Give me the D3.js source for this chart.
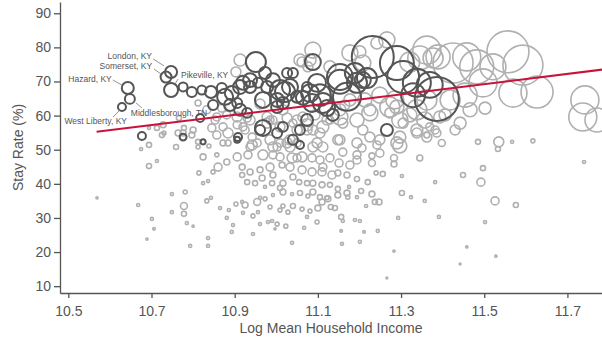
<!DOCTYPE html>
<html>
<head>
<meta charset="utf-8">
<script src="https://cdn.jsdelivr.net/npm/d3@7"></script>
<style>
  body { margin: 0; background: #fff; }
  svg { display: block; font-family: "Liberation Sans", Arial, sans-serif; }
</style>
</head>
<body>
<div id="chart"></div>
<script>
// axis ticks
const xTicks = [10.5, 10.7, 10.9, 11.1, 11.3, 11.5, 11.7];
const yTicks = [10, 20, 30, 40, 50, 60, 70, 80, 90];

// named commuting zones: [log income, stay rate %, population (k)]
const labelNames = ["Hazard, KY", "Middlesborough, TN", "West Liberty, KY", "London, KY", "Somerset, KY", "Pikeville, KY"];
const labeledCZ = [
  [10.643, 68.1, 90], [10.648, 64.9, 62], [10.629, 62.5, 40],
  [10.747, 72.8, 90], [10.735, 71.3, 75], [10.747, 67.5, 122]
];

// highlighted (dark) commuting zones
const highlightCZ = [
  [10.776, 68.4, 50], [10.797, 66.9, 62], [10.821, 67.5, 50], [10.843, 66.9, 90],
  [10.817, 59.3, 40], [10.677, 54.0, 40], [10.776, 53.7, 30], [10.824, 52.3, 16],
  [10.848, 63.1, 62], [10.877, 65.5, 160], [10.893, 66.6, 122], [10.889, 63.1, 90],
  [10.906, 63.7, 62], [10.920, 69.6, 122], [10.951, 75.7, 250], [10.937, 68.4, 90],
  [10.913, 61.7, 90], [10.930, 60.8, 62], [10.956, 69.6, 62], [10.978, 68.4, 90],
  [10.968, 64.6, 160], [10.992, 70.4, 122], [11.009, 67.5, 250], [11.002, 64.6, 122],
  [11.016, 63.7, 90], [11.033, 68.4, 160], [11.050, 65.5, 90], [11.026, 72.5, 62],
  [10.968, 56.4, 160], [10.961, 55.8, 62], [11.016, 56.7, 62], [11.002, 54.9, 62],
  [11.040, 52.9, 62], [11.057, 55.8, 62], [10.908, 53.7, 40], [11.074, 68.4, 62],
  [10.937, 70.4, 122], [10.913, 68.4, 122], [10.869, 68.1, 62], [10.973, 72.5, 90],
  [11.021, 66.9, 250], [11.040, 72.5, 62], [11.002, 62.5, 90], [11.081, 66.6, 200],
  [11.098, 69.6, 200], [11.074, 58.7, 90], [11.112, 63.7, 250], [11.153, 71.3, 420],
  [11.170, 65.5, 490], [11.189, 72.5, 250], [11.194, 69.6, 250], [11.208, 70.4, 160],
  [11.232, 77.2, 1100], [11.290, 75.4, 720], [11.305, 71.3, 640], [11.338, 69.6, 490],
  [11.266, 55.8, 90], [11.057, 51.4, 40], [10.906, 52.9, 22], [11.369, 69.0, 420],
  [11.329, 66.0, 360], [11.218, 71.0, 250], [11.153, 69.9, 360], [11.105, 66.0, 300],
  [11.086, 63.7, 200], [11.122, 62.2, 160], [11.136, 60.2, 90], [11.088, 75.7, 160],
  [11.064, 65.2, 122], [11.386, 64.9, 1210]
];

// all other commuting zones (light)
const otherCZ = [
  [10.569, 35.9, 3], [10.668, 33.8, 6], [10.675, 50.2, 6], [10.694, 51.4, 16], [10.694, 45.2, 16],
  [10.713, 46.7, 6], [10.701, 29.7, 6], [10.706, 26.8, 4], [10.689, 23.8, 3], [10.749, 37.0, 6],
  [10.781, 37.6, 10], [10.778, 33.5, 30], [10.778, 31.2, 16], [10.749, 31.7, 6], [10.785, 28.5, 6],
  [10.800, 27.6, 3], [10.793, 21.8, 6], [10.836, 24.1, 6], [10.836, 21.8, 6], [10.759, 50.8, 16],
  [10.814, 43.2, 10], [10.824, 40.2, 6], [10.836, 40.8, 6], [10.824, 47.9, 22], [10.848, 43.5, 10],
  [10.860, 44.9, 40], [10.857, 48.5, 10], [10.833, 35.0, 10], [10.843, 35.9, 6], [10.865, 32.9, 6],
  [10.886, 32.3, 6], [10.881, 30.0, 6], [10.896, 27.9, 6], [10.893, 25.9, 6], [10.903, 34.1, 10],
  [10.918, 34.7, 6], [10.920, 31.5, 6], [10.872, 52.0, 22], [10.884, 52.0, 22], [10.906, 47.9, 40],
  [10.881, 46.4, 22], [10.918, 42.6, 16], [10.838, 51.1, 10], [10.812, 50.8, 10], [10.694, 56.4, 6],
  [10.713, 56.4, 16], [10.728, 57.3, 22], [10.725, 54.3, 16], [10.730, 54.9, 10], [10.764, 54.9, 22],
  [10.766, 59.3, 16], [10.797, 54.3, 22], [10.812, 63.7, 22], [10.812, 52.3, 16], [10.778, 56.4, 16],
  [11.297, 51.1, 122], [11.283, 47.6, 30], [11.283, 45.8, 22], [11.345, 47.6, 22], [11.230, 46.1, 30],
  [11.230, 48.2, 22], [11.256, 42.9, 16], [11.240, 43.2, 10], [11.302, 42.3, 6], [11.302, 37.3, 16],
  [11.247, 34.7, 22], [11.324, 36.1, 6], [11.293, 30.0, 6], [11.244, 26.2, 6], [11.211, 25.9, 4],
  [11.201, 23.0, 6], [11.156, 26.2, 4], [11.158, 22.4, 6], [11.038, 22.7, 6], [10.944, 25.3, 6],
  [11.283, 20.3, 3], [11.266, 12.4, 2], [11.067, 27.1, 6], [10.997, 26.8, 3], [11.189, 29.4, 6],
  [11.201, 29.1, 6], [11.156, 30.3, 16], [11.160, 29.1, 6], [11.098, 28.8, 10], [11.074, 30.3, 6],
  [11.023, 27.6, 10], [11.002, 28.2, 10], [10.990, 29.1, 6], [10.980, 28.8, 6], [10.961, 28.2, 6],
  [10.944, 30.6, 10], [10.956, 31.7, 6], [10.925, 33.8, 22], [10.954, 34.7, 30], [10.985, 33.2, 10],
  [11.009, 32.3, 10], [11.028, 31.7, 10], [11.040, 33.5, 16], [11.016, 33.5, 10], [11.062, 32.6, 10],
  [11.081, 32.0, 10], [11.100, 32.9, 22], [11.110, 34.7, 22], [11.124, 35.6, 22], [11.131, 33.2, 16],
  [11.141, 32.9, 16], [10.961, 35.9, 6], [10.973, 35.6, 10], [10.992, 36.7, 6], [11.016, 37.6, 22],
  [11.038, 37.0, 6], [11.057, 37.3, 16], [11.076, 36.4, 10], [11.088, 37.6, 22], [11.105, 36.1, 16],
  [11.122, 35.9, 10], [11.148, 36.7, 22], [11.170, 37.3, 22], [11.172, 36.1, 10], [11.194, 36.1, 6],
  [11.216, 33.5, 6], [11.230, 37.0, 22], [11.237, 34.7, 16], [11.204, 37.9, 16], [11.220, 40.5, 16],
  [11.194, 41.4, 16], [11.175, 39.1, 6], [11.148, 38.5, 16], [11.129, 39.7, 16], [11.110, 39.7, 22],
  [11.088, 40.2, 22], [11.074, 40.2, 16], [11.055, 40.5, 16], [11.040, 42.0, 22], [11.016, 40.2, 22],
  [11.009, 38.8, 16], [10.990, 40.2, 16], [10.973, 39.1, 6], [10.949, 40.2, 16], [10.930, 40.5, 16],
  [10.966, 41.7, 22], [10.992, 42.6, 22], [10.961, 44.1, 22], [10.937, 43.5, 22], [10.918, 44.9, 22],
  [10.985, 44.9, 40], [11.014, 45.5, 22], [11.033, 44.9, 40], [11.062, 44.1, 40], [11.086, 43.5, 40],
  [11.110, 43.5, 40], [11.134, 42.6, 40], [11.148, 43.2, 22], [11.170, 42.6, 22], [11.151, 46.1, 40],
  [11.129, 47.6, 40], [11.105, 47.0, 40], [11.086, 47.6, 40], [11.062, 47.9, 62], [11.038, 47.6, 62],
  [11.009, 47.9, 40], [10.992, 48.5, 40], [10.968, 48.5, 62], [10.932, 48.5, 40], [11.194, 48.5, 40],
  [11.177, 45.5, 40], [11.160, 49.3, 40], [11.206, 50.5, 40], [11.242, 51.4, 40], [11.249, 49.0, 40],
  [11.088, 50.8, 62], [11.112, 50.8, 62], [11.033, 50.8, 62], [10.992, 50.8, 62], [10.942, 51.4, 62],
  [11.740, 46.4, 6], [11.382, 40.5, 6], [11.357, 35.0, 6], [11.391, 30.3, 6], [11.449, 42.6, 16],
  [11.497, 44.6, 16], [11.492, 40.5, 40], [11.526, 35.0, 40], [11.576, 33.8, 16], [11.502, 28.8, 6],
  [11.458, 21.5, 3], [11.528, 18.8, 3], [11.442, 16.5, 2], [11.485, 52.3, 16], [11.535, 52.3, 62],
  [11.533, 50.2, 16], [11.567, 52.3, 6], [11.617, 52.6, 10], [11.398, 52.0, 30], [11.362, 54.3, 22],
  [11.382, 55.8, 40], [11.442, 57.8, 90], [11.502, 62.2, 90],
  [11.557, 78.7, 1100], [11.593, 74.8, 1000], [11.425, 75.4, 1000], [11.482, 74.3, 720], [11.497, 69.6, 490],
  [11.569, 66.6, 490], [11.627, 66.9, 640], [11.458, 77.2, 490], [11.389, 77.2, 360], [11.521, 74.3, 420],
  [11.742, 64.6, 490], [11.737, 59.6, 490], [11.771, 58.7, 360], [11.362, 64.6, 250],
  [11.088, 79.2, 160], [11.081, 76.3, 90], [11.062, 75.7, 62], [11.129, 74.3, 90], [11.177, 78.4, 160],
  [11.208, 75.4, 160], [11.266, 82.2, 160], [11.362, 79.2, 490], [11.338, 61.7, 250], [11.273, 62.5, 250],
  [11.225, 60.8, 160], [11.194, 58.7, 122], [11.153, 59.6, 160], [11.112, 56.7, 90], [11.088, 55.8, 62],
  [11.050, 55.8, 62], [11.009, 56.7, 62], [10.978, 57.8, 62], [10.937, 58.7, 62], [10.906, 59.6, 62],
  [10.985, 52.9, 62], [11.026, 52.0, 62], [11.098, 52.0, 62], [11.153, 52.9, 62], [11.194, 52.0, 62],
  [11.225, 53.7, 62], [11.249, 52.9, 62], [11.297, 53.7, 90], [11.338, 55.8, 90], [11.362, 53.7, 62],
  [11.297, 58.7, 160],
  [10.776, 54.9, 22], [10.800, 55.8, 22], [10.845, 56.4, 40], [10.857, 54.3, 40], [10.872, 56.7, 40],
  [10.884, 54.9, 62], [10.906, 57.3, 40], [10.925, 55.8, 40], [10.942, 53.7, 40], [10.954, 52.0, 40],
  [10.857, 59.6, 40], [10.881, 60.2, 40], [10.930, 59.3, 40], [10.978, 59.6, 62], [10.992, 58.7, 40],
  [11.026, 59.3, 62], [11.040, 57.8, 40], [11.064, 59.6, 62], [11.074, 55.8, 62], [11.050, 52.0, 40],
  [11.009, 52.0, 40], [11.057, 76.3, 90], [11.076, 74.3, 62],
  [11.177, 64.6, 90], [11.213, 64.6, 122], [11.249, 66.0, 160], [11.285, 64.6, 200], [11.321, 60.2, 122],
  [11.357, 58.7, 160], [11.406, 60.2, 90], [11.418, 64.6, 250], [11.454, 66.0, 360], [11.466, 61.7, 122],
  [11.430, 55.8, 62], [11.393, 59.6, 90], [10.913, 76.3, 90], [10.903, 72.8, 62], [10.833, 61.7, 40],
  [10.853, 58.7, 40], [10.869, 62.2, 40], [11.093, 60.2, 62], [11.129, 58.7, 40], [11.165, 63.1, 62],
  [11.242, 81.3, 90], [11.201, 78.7, 90], [11.321, 75.7, 250], [11.345, 76.9, 360], [11.377, 76.9, 250],
  [10.961, 63.4, 62], [11.016, 61.7, 62], [11.074, 57.3, 90], [11.153, 61.7, 90], [11.208, 55.8, 62],
  [11.225, 61.7, 90], [11.290, 62.5, 122], [11.305, 57.8, 62], [11.369, 56.7, 40], [11.386, 54.9, 40],
  [11.290, 52.0, 90], [11.148, 52.9, 62], [11.105, 54.9, 62], [11.033, 52.9, 62], [11.002, 50.8, 40],
  [10.937, 50.8, 40], [11.050, 47.6, 40], [11.194, 47.0, 40], [11.112, 44.9, 40], [11.160, 57.8, 62],
  [11.122, 58.7, 62], [11.050, 58.7, 62], [10.985, 58.7, 40], [10.920, 56.7, 40], [11.273, 60.8, 62],
  [11.338, 54.9, 62]
];

// OLS fit: stay = intercept + slope * income
const fitSlope = 15.0;
const fitIntercept = -103.27;
const fitRange = [10.568, 11.8];

const width = 602, height = 341;
const textColor = "#555";

const svg = d3.select("#chart").append("svg")
  .attr("width", width)
  .attr("height", height);

const x = d3.scaleLinear().domain([10.48, 11.8]).range([60, 609]);
const y = d3.scaleLinear().domain([8, 93.3]).range([293, 2]);
const r = d3.scaleSqrt().domain([0, 1000]).range([0, 20]);

// points: light first, dark on top
svg.append("g").selectAll("circle")
  .data(otherCZ)
  .enter().append("circle")
  .attr("cx", d => x(d[0]))
  .attr("cy", d => y(d[1]))
  .attr("r", d => r(d[2]))
  .attr("fill", "none")
  .attr("stroke", "#b0b0b0")
  .attr("stroke-width", 1.6);

svg.append("g").selectAll("circle")
  .data(highlightCZ.concat(labeledCZ))
  .enter().append("circle")
  .attr("cx", d => x(d[0]))
  .attr("cy", d => y(d[1]))
  .attr("r", d => r(d[2]))
  .attr("fill", "none")
  .attr("stroke", "#555")
  .attr("stroke-width", 2);

// regression line
const line = d3.line()
  .x(d => x(d))
  .y(d => y(fitIntercept + fitSlope * d));

svg.append("path")
  .datum(fitRange)
  .attr("d", line)
  .attr("fill", "none")
  .attr("stroke", "#c8143c")
  .attr("stroke-width", 2);

// labels with leader lines (offsets in px from the point)
const labelLayout = [
  { tx: -16, ty: -6, anchor: "end", l: [-15, -8, -6, -3] },
  { tx: 1, ty: 17, anchor: "start", l: [6, 4, 12, 9] },
  { tx: 5, ty: 17, anchor: "end", l: [-9, 10, -2, 3] },
  { tx: -19, ty: -13, anchor: "end", l: [-18, -13, -7, -6] },
  { tx: -14, ty: -8, anchor: "end", l: [-12, -8, -5, -3] },
  { tx: 10, ty: -12, anchor: "start", l: [7, -11, 4, -6] }
];

const lab = svg.append("g").selectAll("g")
  .data(labeledCZ)
  .enter().append("g")
  .attr("transform", d => `translate(${x(d[0])},${y(d[1])})`);

lab.append("line")
  .attr("x1", (d, i) => labelLayout[i].l[0])
  .attr("y1", (d, i) => labelLayout[i].l[1])
  .attr("x2", (d, i) => labelLayout[i].l[2])
  .attr("y2", (d, i) => labelLayout[i].l[3])
  .attr("stroke", "#777")
  .attr("stroke-width", 0.8);

lab.append("text")
  .attr("x", (d, i) => labelLayout[i].tx)
  .attr("y", (d, i) => labelLayout[i].ty)
  .attr("text-anchor", (d, i) => labelLayout[i].anchor)
  .attr("font-size", 8.5)
  .attr("fill", textColor)
  .text((d, i) => labelNames[i]);

// axes
const xAxis = svg.append("g")
  .attr("transform", "translate(0,293)")
  .call(d3.axisBottom(x).tickValues(xTicks).tickFormat(d3.format(".1f")).tickSize(5).tickSizeOuter(0).tickPadding(8));

const yAxis = svg.append("g")
  .attr("transform", "translate(60,0)")
  .call(d3.axisLeft(y).tickValues(yTicks).tickSize(6).tickSizeOuter(0).tickPadding(3));

[xAxis, yAxis].forEach(g => {
  g.selectAll("path, line").attr("stroke", "#555").attr("stroke-width", 1.3);
  g.selectAll("text").attr("fill", textColor).attr("font-size", 14)
    .attr("font-family", "'Liberation Sans', Arial, sans-serif");
});

svg.append("text")
  .attr("x", 331)
  .attr("y", 333)
  .attr("text-anchor", "middle")
  .attr("font-size", 14)
  .attr("fill", textColor)
  .text("Log Mean Household Income");

svg.append("text")
  .attr("transform", "translate(23,147.5) rotate(-90)")
  .attr("text-anchor", "middle")
  .attr("font-size", 14)
  .attr("fill", textColor)
  .text("Stay Rate (%)");
</script>
</body>
</html>
